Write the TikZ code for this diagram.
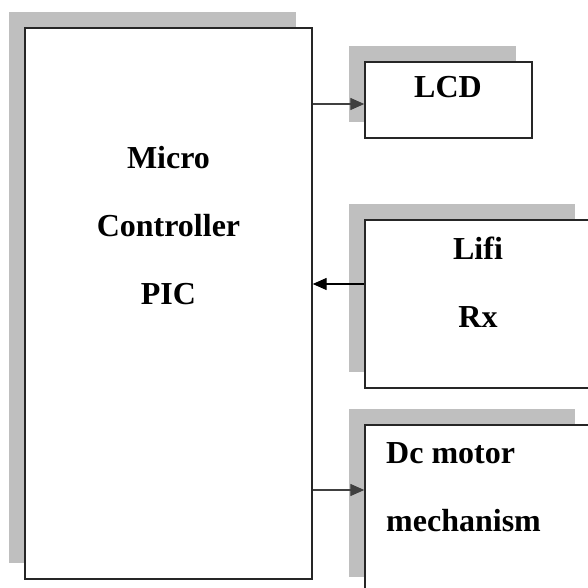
\documentclass[tikz,border=0pt]{standalone}
\usepackage{fontspec}
\setmainfont{Liberation Serif}
\usepackage{tikz}
\usetikzlibrary{arrows.meta,positioning,shadows}

\begin{document}
\begin{tikzpicture}[x=1pt,y=-1pt,
  block/.style={draw=black!85,line width=1.4pt,fill=white,inner sep=0pt,
    drop shadow={shadow xshift=-16pt,shadow yshift=16pt,fill=black!25,opacity=1}},
  lbl/.style={inner sep=0pt,font=\fontsize{32}{68}\selectfont\bfseries},
  arr/.style={line width=1.3pt,-{Triangle[length=14pt,width=12pt]}}]
\useasboundingbox (0,0) rectangle (588,588);

% blocks
\node[block,minimum width=287pt,minimum height=551pt] (mcu) at (168.5,303.5) {};
\node[block,minimum width=167pt,minimum height=76pt] (lcd) at (448.5,100) {};
\node[block,minimum width=226pt,minimum height=168pt] (lifi) at (478,304) {};
\node[block,minimum width=226pt,minimum height=168pt] (motor) at (478,509) {};

% texts
\node[lbl,align=center,anchor=north] (mcutxt) at (168.5,146) {Micro\\Controller\\PIC};
\node[lbl,anchor=north] (lcdtxt) at (448,76) {LCD};
\node[lbl,align=center,anchor=north] (lifitxt) at (478,237) {Lifi\\Rx};
\node[lbl,align=left,anchor=north west] (motortxt) at (386,442) {Dc motor\\mechanism};

% links
\draw[arr,black!75] ([yshift=-4pt]lcd.west -| mcu.east) -- ([yshift=-4pt]lcd.west);
\draw[arr,black] ([yshift=20pt]lifi.west) -- ([yshift=20pt]lifi.west -| mcu.east);
\draw[arr,black!75] ([yshift=19pt]motor.west -| mcu.east) -- ([yshift=19pt]motor.west);
\end{tikzpicture}
\end{document}
